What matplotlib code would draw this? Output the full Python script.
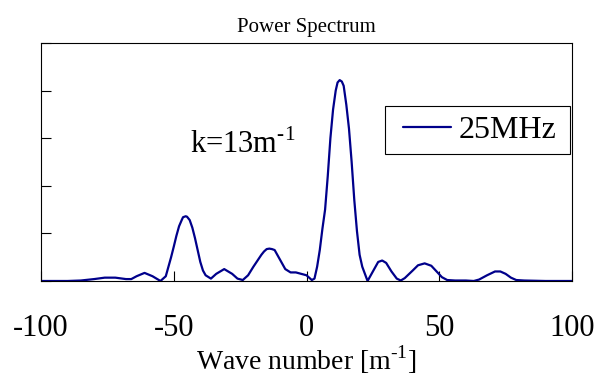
import matplotlib
matplotlib.use("Agg")
import matplotlib.pyplot as plt
from matplotlib.patches import Rectangle

plt.rcParams['font.family'] = ['Liberation Serif', 'DejaVu Serif']
plt.rcParams['axes.unicode_minus'] = False
plt.rcParams['mathtext.fontset'] = 'custom'
plt.rcParams['mathtext.rm'] = 'Liberation Serif'

# wave number [1/m] and spectral power
k = [-100, -90, -85, -80, -76, -72, -68, -66, -64, -61, -58, -55, -53, -51,
     -50, -49, -48, -47, -46.5, -45.5, -45, -44, -43, -42, -41, -40, -39,
     -38, -36, -34, -31, -28, -26, -24, -22, -20, -17, -16, -15, -14, -13,
     -12, -10, -8, -6, -4, -2, 0, 2, 3, 4, 5, 6, 7, 8, 9, 10, 11, 11.7, 12.5,
     13.3, 14, 15, 16, 17, 18, 19, 20, 21, 23, 25, 27, 28.5, 30, 32, 34,
     35.5, 37, 40, 42, 44.5, 47, 49, 51, 53, 56, 60, 63, 65, 68, 71, 73, 75,
     77, 79, 82, 90, 100]
power = [0.0, 0.0, 0.01, 0.04, 0.07, 0.07, 0.04, 0.04, 0.1, 0.17, 0.1, 0.0,
         0.1, 0.5, 0.72, 0.95, 1.15, 1.28, 1.34, 1.36, 1.35, 1.28, 1.12, 0.9,
         0.65, 0.4, 0.22, 0.12, 0.05, 0.15, 0.25, 0.15, 0.05, 0.02, 0.12, 0.3,
         0.55, 0.62, 0.67, 0.68, 0.67, 0.65, 0.45, 0.25, 0.18, 0.18, 0.15,
         0.12, 0.02, 0.05, 0.3, 0.65, 1.1, 1.5, 2.2, 3.0, 3.6, 4.0, 4.17, 4.22,
         4.19, 4.1, 3.7, 3.2, 2.5, 1.7, 1.05, 0.55, 0.3, 0.0, 0.2, 0.4, 0.43,
         0.38, 0.2, 0.05, 0.01, 0.06, 0.22, 0.33, 0.37, 0.32, 0.2, 0.08, 0.02,
         0.01, 0.01, 0.0, 0.03, 0.12, 0.2, 0.2, 0.15, 0.07, 0.02, 0.01, 0.0,
         0.0]

xticks = [-100, -50, 0, 50, 100]
yticks = [0, 1, 2, 3, 4, 5]

fig = plt.figure(figsize=(6.03, 3.81), dpi=100)
ax = fig.add_axes([0.068, 0.2625, 0.8806, 0.6247])

ax.plot(k, power, color='#00008B', lw=1.6, label='25MHz',
        solid_joinstyle='round', solid_capstyle='round')

ax.set_xlim(-100, 100)
ax.set_ylim(0, 5)
ax.set_xticks(xticks)
ax.set_xticklabels([str(t) for t in xticks])
ax.set_yticks(yticks)
ax.set_yticklabels([])
ax.tick_params(axis='both', direction='in', length=7, width=0.8)
ax.tick_params(axis='x', labelsize=22, pad=24)
for s in ax.spines.values():
    s.set_linewidth(0.8)

ax.set_title('Power Spectrum', fontsize=15, pad=8)
ax.set_xlabel(r'Wave number [m$^{\text{-}1}$]', fontsize=20, labelpad=0)
ax.text(-43.9, 2.69, r'k=13m$^{\text{-}1}$', fontsize=22, ha='left',
        va='baseline')

# legend without its own frame, box drawn separately
ax.add_patch(Rectangle((0.648, 0.534), 0.348, 0.2017, transform=ax.transAxes,
                       fill=False, edgecolor='black', lw=0.8, zorder=5))
ax.legend(loc='center', bbox_to_anchor=(0.826, 0.634), fontsize=23,
          frameon=False, handlelength=1.5, handletextpad=0.25, borderpad=0,
          borderaxespad=0)

fig.savefig('out.png', dpi=100)
